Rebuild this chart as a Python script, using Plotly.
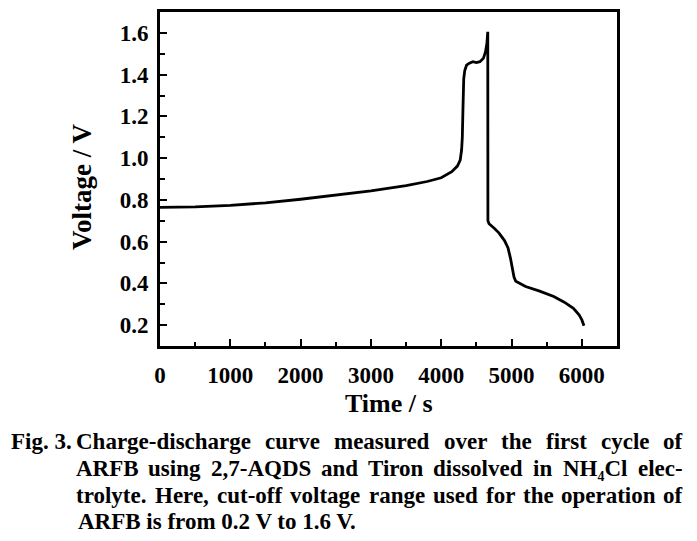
import plotly.graph_objects as go

# ---- data ----
time_s = [0, 500, 1000, 1500, 2000, 2500, 3000, 3500, 3800, 4000, 4150, 4230,
          4270, 4290, 4300, 4310, 4320, 4335, 4360, 4400, 4450, 4500, 4550,
          4600, 4630, 4650, 4662, 4664, 4680, 4750, 4820, 4900, 4950, 4985,
          5010, 5035, 5060, 5100, 5200, 5400, 5600, 5750, 5880, 5960, 6000, 6030]
voltage_v = [0.764, 0.766, 0.774, 0.786, 0.803, 0.822, 0.843, 0.868, 0.888,
             0.906, 0.935, 0.962, 0.99, 1.04, 1.10, 1.25, 1.38, 1.42, 1.445,
             1.455, 1.462, 1.458, 1.462, 1.478, 1.51, 1.55, 1.605, 0.70, 0.686,
             0.665, 0.642, 0.605, 0.570, 0.52, 0.47, 0.43, 0.41, 0.402, 0.385,
             0.363, 0.337, 0.31, 0.28, 0.25, 0.225, 0.197]

x_tick_vals = [0, 1000, 2000, 3000, 4000, 5000, 6000]
y_tick_vals = [0.2, 0.4, 0.6, 0.8, 1.0, 1.2, 1.4, 1.6]
y_tick_text = ["0.2", "0.4", "0.6", "0.8", "1.0", "1.2", "1.4", "1.6"]

x_title = "Time / s"
y_title = "Voltage / V"

caption_label = "Fig. 3."
caption_lines = [
    ["Charge-discharge", "curve", "measured", "over", "the", "first", "cycle", "of"],
    ["ARFB", "using", "2,7-AQDS", "and", "Tiron", "dissolved", "in", "NH\u2084Cl", "elec-"],
    ["trolyte.", "Here,", "cut-off", "voltage", "range", "used", "for", "the", "operation", "of"],
]
caption_last = "ARFB is from 0.2 V to 1.6 V."

# ---- layout (page pixel coordinates; the page body adds an 8 px offset) ----
OFF = 8
W, H = 697 - OFF, 541 - OFF
PL, PR, PT, PB = 160, 617, 12, 346          # plot box on the page
L, R, T, B = PL - OFF, PR - OFF, PT - OFF, PB - OFF
FONT = "Liberation Serif"
CAP_SIZE = 23
TEXT_X0, TEXT_X1 = 76, 683                  # justified text block
line_y = [441, 468, 495, 521]

# approximate Times-Bold advance widths (em) for justification
_W = {
    'A': .722, 'B': .667, 'C': .722, 'D': .722, 'F': .611, 'H': .778, 'N': .722,
    'Q': .778, 'R': .722, 'S': .556, 'T': .667, 'V': .722,
    'a': .5, 'c': .444, 'd': .556, 'e': .444, 'f': .333, 'g': .5, 'h': .556,
    'i': .278, 'l': .278, 'm': .833, 'n': .556, 'o': .5, 'p': .556, 'r': .444,
    's': .389, 't': .333, 'u': .556, 'v': .5, 'y': .5,
    '-': .333, ',': .25, '.': .25, ' ': .25, '2': .5, '7': .5, '\u2084': .4,
}


def text_width(s, size):
    return sum(_W.get(ch, .5) for ch in s) * size


def px_x(px):
    return (px - PL) / (PR - PL)


def px_y(py):
    return (PB - py) / (PB - PT)


fig = go.Figure()
fig.add_trace(go.Scatter(x=time_s, y=voltage_v, mode="lines",
                         line=dict(color="black", width=2.8),
                         showlegend=False, hoverinfo="skip"))

cap_font = dict(family=FONT, size=CAP_SIZE, color="black", weight=700)
annotations = [dict(text=caption_label, xref="paper", yref="paper",
                    x=px_x(9), y=px_y(line_y[0]), xanchor="left", yanchor="middle",
                    showarrow=False, font=cap_font)]
for li, words in enumerate(caption_lines):
    widths = [text_width(w, CAP_SIZE) for w in words]
    gap = (TEXT_X1 - TEXT_X0 - sum(widths)) / (len(words) - 1)
    x = TEXT_X0
    for w, wd in zip(words, widths):
        annotations.append(dict(
            text=w, xref="paper", yref="paper",
            x=px_x(x + wd / 2), y=px_y(line_y[li]),
            xanchor="center", yanchor="middle",
            showarrow=False, font=cap_font))
        x += wd + gap
annotations.append(dict(text=caption_last, xref="paper", yref="paper",
                        x=px_x(TEXT_X0), y=px_y(line_y[3]), xanchor="left",
                        yanchor="middle", showarrow=False, font=cap_font))

# axis titles
annotations.append(dict(text=x_title, xref="paper", yref="paper",
                        x=px_x(389), y=px_y(403), xanchor="center", yanchor="middle",
                        showarrow=False,
                        font=dict(family=FONT, size=26, color="black", weight=700)))
annotations.append(dict(text=y_title, xref="paper", yref="paper",
                        x=px_x(82), y=px_y(187), xanchor="center", yanchor="middle",
                        textangle=-90, showarrow=False,
                        font=dict(family=FONT, size=27, color="black", weight=700)))

axis_common = dict(
    showline=True, linecolor="black", linewidth=3, mirror=True,
    showgrid=False, zeroline=False, automargin=False,
    ticks="inside", ticklen=7, tickwidth=2, tickcolor="black",
    tickfont=dict(family=FONT, size=23, color="black", weight=700),
)

fig.update_layout(
    width=W, height=H,
    margin=dict(l=L, r=W - R, t=T, b=H - B, autoexpand=False),
    paper_bgcolor="white", plot_bgcolor="white",
    xaxis=dict(range=[0, 6500], tickvals=x_tick_vals,
               minor=dict(ticks="inside", ticklen=4, tickwidth=2,
                          tickcolor="black", dtick=500, tick0=0),
               ticklabelstandoff=6, **axis_common),
    yaxis=dict(range=[0.1, 1.7], tickvals=y_tick_vals, ticktext=y_tick_text,
               minor=dict(ticks="inside", ticklen=5, tickwidth=2,
                          tickcolor="black", dtick=0.1, tick0=0.1),
               ticklabelstandoff=4, **axis_common),
    annotations=annotations,
)

fig.write_html("out.html")
